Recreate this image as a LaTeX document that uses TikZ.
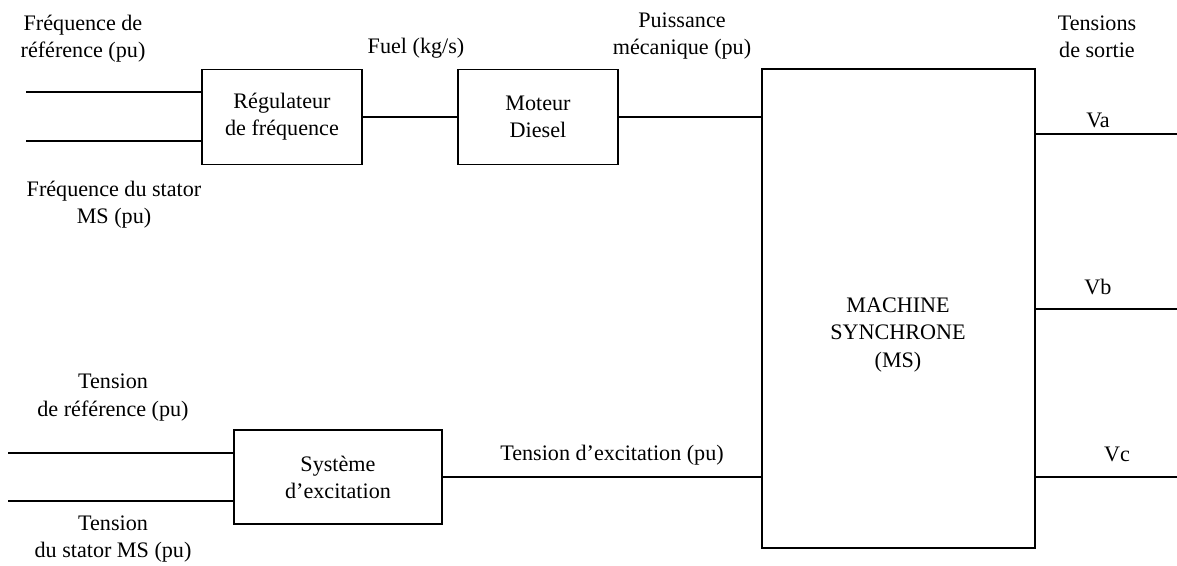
\documentclass[tikz,border=0pt]{standalone}
\usepackage{fontspec}
\setmainfont{Liberation Serif}
\usetikzlibrary{positioning}
\newcommand{\lbfont}{\fontsize{12.6}{15.4}\selectfont}
\tikzset{
  blk/.style={draw, line width=1.1pt, align=center, font=\lbfont, inner sep=0pt},
  lbl/.style={align=center, font=\lbfont, inner sep=0pt},
  wire/.style={line width=1.1pt}}

\begin{document}
\begin{tikzpicture}[x=0.02cm, y=-0.02cm]
  \useasboundingbox (0,0) rectangle (1177,565);
  % blocs
  \node[blk, minimum width=3.2cm, minimum height=1.9cm] (regul) at (282,117) {R\'egulateur\\de fr\'equence};
  \node[blk, minimum width=3.2cm, minimum height=1.9cm] (moteur) at (538,117) {Moteur\\Diesel};
  \node[blk, minimum width=5.46cm, minimum height=9.58cm] (ms) at (898.5,308.5) {};
  \node[lbl] (mstxt) at (898,335) {MACHINE\\SYNCHRONE\\(MS)};
  \node[blk, minimum width=4.16cm, minimum height=1.88cm] (exc) at (338,477) {Syst\`eme\\d'excitation};
  % bouts libres
  \coordinate (fref) at (26,92);
  \coordinate (fms) at (26,141);
  \coordinate (vref) at (8,453);
  \coordinate (vms) at (8,501);
  \coordinate (va) at (1177,134);
  \coordinate (vb) at (1177,309);
  \coordinate (vc) at (1177,477);
  % liaisons
  \draw[wire] (fref) -- (fref -| regul.west);
  \draw[wire] (fms) -- (fms -| regul.west);
  \draw[wire] (regul.east) -- (moteur.west);
  \draw[wire] (moteur.east) -- (moteur.east -| ms.west);
  \draw[wire] (vref) -- (vref -| exc.west);
  \draw[wire] (vms) -- (vms -| exc.west);
  \draw[wire] (exc.east) -- (exc.east -| ms.west);
  \draw[wire] (ms.east |- va) -- (va);
  \draw[wire] (ms.east |- vb) -- (vb);
  \draw[wire] (ms.east |- vc) -- (vc);
  % etiquettes
  \node[lbl] (lfref) at (83,38.5) {Fr\'equence de\\r\'ef\'erence (pu)};
  \node[lbl] (lfms) at (114,205) {Fr\'equence du stator\\MS (pu)};
  \node[lbl] (lfuel) at (416,48) {Fuel (kg/s)};
  \node[lbl] (lpm) at (682,36) {Puissance\\m\'ecanique (pu)};
  \node[lbl] (lsort) at (1097,37) {Tensions\\de sortie};
  \node[lbl] (lva) at (1098,120) {Va};
  \node[lbl] (lvb) at (1098,287) {Vb};
  \node[lbl] (lvc) at (1117,454) {Vc};
  \node[lbl] (lvref) at (113,397.5) {Tension\\de r\'ef\'erence (pu)};
  \node[lbl] (lvms) at (113,539) {Tension\\du stator MS (pu)};
  \node[lbl] (lexc) at (612,455) {Tension d'excitation (pu)};
\end{tikzpicture}
\end{document}
